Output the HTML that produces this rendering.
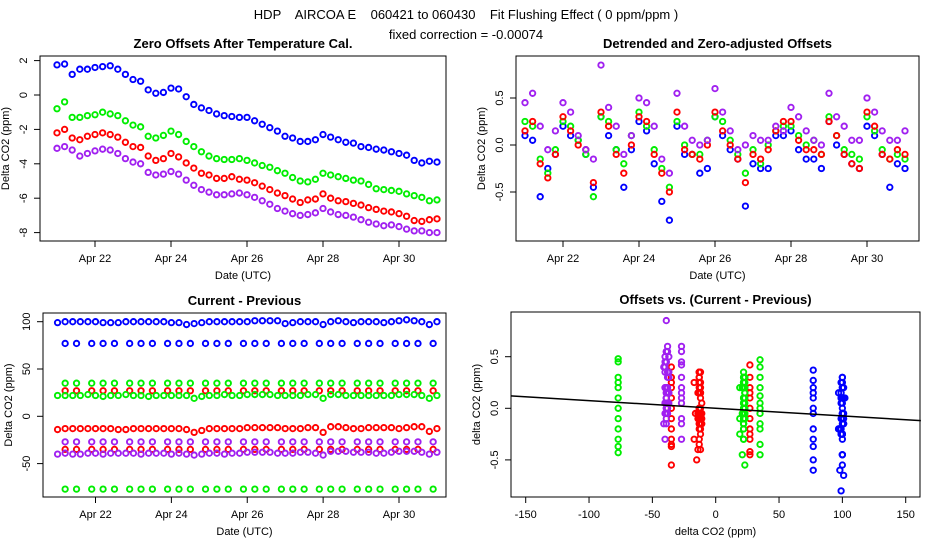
<!DOCTYPE html>
<html><head><meta charset="utf-8"><style>
body{margin:0;background:#fff;}
svg{display:block;font-family:"Liberation Sans",sans-serif;}
</style></head><body>
<svg id="c" width="936" height="540" viewBox="0 0 936 540" xmlns="http://www.w3.org/2000/svg">
<rect width="936" height="540" fill="#fff"/>
<text x="466" y="19" font-size="13" text-anchor="middle" style="white-space:pre">HDP    AIRCOA E    060421 to 060430    Fit Flushing Effect ( 0 ppm/ppm )</text>
<text x="466" y="39" font-size="13" text-anchor="middle" style="white-space:pre">fixed correction = -0.00074</text>
</svg>
<script>
// ---------- data ----------
const days = [21.0,21.2,21.4,21.6,21.8,22.0,22.2,22.4,22.6,22.8,23.0,23.2,23.4,23.6,23.8,24.0,24.2,24.4,24.6,24.8,25.0,25.2,25.4,25.6,25.8,26.0,26.2,26.4,26.6,26.8,27.0,27.2,27.4,27.6,27.8,28.0,28.2,28.4,28.6,28.8,29.0,29.2,29.4,29.6,29.8,30.0,30.2,30.4,30.6,30.8,31.0];
const zeroBlue = [1.75,1.8,1.2,1.5,1.5,1.6,1.65,1.7,1.5,1.2,0.9,0.8,0.3,0.1,0.15,0.4,0.35,-0.1,-0.55,-0.75,-0.9,-1.1,-1.2,-1.25,-1.3,-1.3,-1.5,-1.7,-1.9,-2.1,-2.4,-2.5,-2.7,-2.7,-2.6,-2.3,-2.45,-2.6,-2.75,-2.8,-3.0,-3.05,-3.15,-3.2,-3.3,-3.4,-3.5,-3.8,-3.95,-3.85,-3.9];
const zeroGreen = [-0.8,-0.4,-1.3,-1.3,-1.2,-1.15,-1.0,-1.1,-1.2,-1.5,-1.75,-1.85,-2.4,-2.5,-2.35,-2.1,-2.3,-2.7,-3.0,-3.3,-3.55,-3.7,-3.75,-3.75,-3.7,-3.8,-3.95,-4.1,-4.2,-4.4,-4.55,-4.8,-5.0,-5.05,-4.9,-4.55,-4.65,-4.75,-4.85,-4.95,-5.0,-5.2,-5.45,-5.5,-5.55,-5.6,-5.75,-5.85,-5.95,-6.15,-6.1];
const zeroRed = [-2.2,-2.0,-2.5,-2.6,-2.4,-2.3,-2.2,-2.3,-2.45,-2.75,-3.0,-3.05,-3.55,-3.8,-3.7,-3.4,-3.6,-3.95,-4.25,-4.55,-4.65,-4.85,-4.85,-4.75,-4.9,-4.95,-5.1,-5.3,-5.5,-5.7,-5.85,-6.05,-6.25,-6.1,-6.05,-5.75,-6.0,-6.15,-6.2,-6.3,-6.4,-6.55,-6.65,-6.75,-6.8,-6.9,-7.05,-7.3,-7.35,-7.25,-7.2];
const zeroPurple = [-3.1,-3.0,-3.2,-3.55,-3.4,-3.25,-3.15,-3.2,-3.4,-3.7,-3.9,-4.0,-4.5,-4.65,-4.6,-4.45,-4.6,-4.95,-5.25,-5.5,-5.65,-5.8,-5.8,-5.75,-5.7,-5.8,-5.95,-6.15,-6.35,-6.6,-6.75,-6.9,-7.0,-6.95,-6.85,-6.6,-6.8,-6.95,-7.0,-7.1,-7.25,-7.4,-7.5,-7.6,-7.55,-7.65,-7.8,-7.9,-7.9,-8.0,-8.0];

const resPurple = [0.45,0.55,0.2,-0.05,0.15,0.45,0.35,0.1,-0.05,-0.15,0.85,0.4,0.2,-0.1,0.1,0.5,0.45,0.2,-0.15,-0.3,0.55,0.2,0.05,0.0,0.05,0.6,0.35,0.15,-0.05,0.0,0.1,0.05,0.05,0.2,0.15,0.4,0.3,0.15,0.05,0.0,0.55,0.3,0.2,0.05,0.05,0.5,0.35,0.15,0.05,0.05,0.15];
const resRed = [0.15,0.25,-0.2,-0.35,-0.1,0.3,0.15,0.0,-0.05,-0.4,0.35,0.2,-0.1,-0.3,0.0,0.3,0.25,-0.1,-0.3,-0.5,0.35,-0.05,-0.1,-0.15,0.0,0.35,0.15,0.0,-0.15,-0.4,-0.1,-0.15,-0.05,0.15,0.25,0.25,0.05,-0.05,-0.05,-0.1,0.25,0.1,-0.1,-0.2,-0.25,0.35,0.2,-0.1,-0.15,-0.05,-0.1];
const resGreen = [0.25,0.2,-0.15,-0.3,-0.05,0.25,0.2,0.05,-0.1,-0.55,0.3,0.25,-0.05,-0.2,0.1,0.35,0.2,-0.05,-0.25,-0.45,0.25,0.0,-0.1,-0.1,0.05,0.3,0.25,0.05,-0.1,-0.3,-0.05,-0.2,0.0,0.15,0.2,0.2,0.1,0.0,0.05,-0.1,0.3,0.1,-0.05,-0.1,-0.15,0.3,0.15,-0.05,-0.15,-0.1,-0.15];
const resBlue = [0.1,0.05,-0.55,-0.25,-0.1,0.2,0.1,0.05,-0.1,-0.45,0.3,0.1,-0.05,-0.45,-0.05,0.25,0.15,-0.2,-0.6,-0.8,0.2,-0.1,-0.1,-0.3,-0.25,0.3,0.1,-0.05,-0.15,-0.65,-0.2,-0.25,-0.25,0.1,0.1,0.15,-0.05,-0.15,-0.15,-0.25,0.25,0.0,-0.1,-0.2,-0.25,0.2,0.1,-0.1,-0.45,-0.2,-0.25];

const cpBlue = [99,100,100,100,100,100,99,99,99,100,100,100,100,100,100,99,99,97,98,99,100,100,100,100,100,100,101,101,101,101,98,99,100,100,100,97,100,101,100,99,100,100,100,99,100,101,102,101,100,97,100];
const cpGreen = [22,22,22,22,23,22,21,22,22,23,22,22,21,22,22,22,22,22,19,21,22,22,23,22,22,23,23,23,23,22,22,22,22,23,23,19,23,23,22,22,22,22,22,22,22,23,23,23,22,19,22];
const cpRed = [-14,-13,-13,-13,-13,-13,-13,-13,-14,-14,-13,-13,-13,-13,-13,-13,-13,-14,-17,-15,-13,-13,-13,-13,-13,-12,-12,-12,-12,-12,-13,-13,-13,-12,-12,-17,-11,-11,-12,-13,-13,-12,-12,-12,-12,-13,-12,-11,-11,-16,-13];
const cpPurple = [-40,-39,-40,-40,-39,-39,-40,-39,-39,-39,-39,-40,-39,-39,-39,-40,-39,-40,-41,-40,-39,-39,-40,-39,-39,-38,-38,-38,-38,-39,-39,-39,-38,-38,-39,-41,-37,-37,-37,-38,-38,-38,-39,-39,-38,-37,-37,-37,-38,-40,-38];

const sparseDays = [21.2,21.5,21.9,22.2,22.5,22.9,23.2,23.5,23.9,24.2,24.5,24.9,25.2,25.5,25.9,26.2,26.5,26.9,27.2,27.5,27.9,28.2,28.5,28.9,29.2,29.5,29.9,30.2,30.5,30.9];
const sparseLevels = [77, 35, 27, -27, -35, -77];
const sparseColors = ["#0000ff","#00ee00","#ff0000","#a020f0","#ff0000","#00ee00"];
const sparseRes77 = [0.37,0.27,0.2,0.1,0.0,-0.05,-0.2,-0.3,-0.37,-0.5,-0.6,0.15];
const sparseRes35 = [0.47,0.4,0.3,0.2,0.12,0.05,-0.05,-0.15,-0.2,-0.35,-0.45,0.0];
const sparseRes27 = [0.42,0.3,0.2,0.1,0.0,-0.1,-0.2,-0.25,-0.3,-0.42,-0.45,0.15];
const sparseResM27 = [0.6,0.55,0.42,0.3,0.2,0.1,0.05,-0.1,-0.15,-0.3,0.45,0.15];
const sparseResM35 = [0.4,0.3,0.2,0.0,-0.1,-0.2,-0.3,-0.35,-0.37,-0.55,0.25,0.1];
const sparseResM77 = [0.48,0.45,0.3,0.2,0.1,0.0,-0.1,-0.2,-0.3,-0.37,-0.43,0.25];

const dateTicks = [22,24,26,28,30];
const dateTickLabels = ["Apr 22","Apr 24","Apr 26","Apr 28","Apr 30"];
const zeroTicks = [2,0,-2,-4,-6,-8];
const resTicks = [0.5,0.0,-0.5];
const resTickLabels = ["0.5","0.0","-0.5"];
const cpTicks = [100,50,0,-50];
const dxTicks = [-150,-100,-50,0,50,100,150];
const fitSlope = -0.00074;

// ---------- drawing ----------
const svg = document.getElementById('c');
const NS = 'http://www.w3.org/2000/svg';
function mk(tag, attrs, parent){
  const e = document.createElementNS(NS, tag);
  for (const k in attrs) e.setAttribute(k, attrs[k]);
  (parent||svg).appendChild(e);
  return e;
}
function lin(d0,d1,r0,r1){ return v => r0 + (v-d0)*(r1-r0)/(d1-d0); }

const BLUE="#0000ff", GREEN="#00ee00", RED="#ff0000", PURPLE="#a020f0";

function panel(name, box, title, xlab, ylab){
  const g = mk('g', {});
  
  
  const r = mk('rect', {x:box.l, y:box.t, width:box.r-box.l, height:box.b-box.t, fill:'none', stroke:'#000', 'stroke-width':1}, g);
  
  
  const t = mk('text', {x:(box.l+box.r)/2, y:box.t-8, 'font-size':13, 'font-weight':'bold', 'text-anchor':'middle'}, g);
  t.textContent = title;
  
  
  const xl = mk('text', {x:(box.l+box.r)/2, y:box.b+38, 'font-size':11, 'text-anchor':'middle'}, g);
  xl.textContent = xlab;
  
  
  const yx = box.l-31, yy=(box.t+box.b)/2;
  const yl = mk('text', {x:yx, y:yy, 'font-size':11, 'text-anchor':'middle', transform:`rotate(-90 ${yx} ${yy})`}, g);
  yl.textContent = ylab;
  
  
  return g;
}
function xAxis(g, box, sx, ticks, labels){
  mk('line', {x1:sx(ticks[0]), x2:sx(ticks[ticks.length-1]), y1:box.b, y2:box.b, stroke:'#000'}, g);
  ticks.forEach((v,i)=>{
    const x = sx(v);
    const tk = mk('line', {x1:x, x2:x, y1:box.b, y2:box.b+6, stroke:'#000'}, g);
    
    
    const tl = mk('text', {x:x, y:box.b+21, 'font-size':11, 'text-anchor':'middle'}, g);
    tl.textContent = labels[i];
    
    
  });
}
function yAxis(g, box, sy, ticks, labels){
  mk('line', {x1:box.l, x2:box.l, y1:sy(ticks[0]), y2:sy(ticks[ticks.length-1]), stroke:'#000'}, g);
  ticks.forEach((v,i)=>{
    const y = sy(v);
    const tk = mk('line', {x1:box.l-6, x2:box.l, y1:y, y2:y, stroke:'#000'}, g);
    
    
    const lx = box.l-13;
    const tl = mk('text', {x:lx, y:y, 'font-size':11, 'text-anchor':'middle', transform:`rotate(-90 ${lx} ${y})`}, g);
    tl.textContent = labels[i];
    
    
  });
}
function pt(g, x, y, color, nm){
  const c = mk('circle', {cx:x, cy:y, r:2.7, fill:'none', stroke:color, 'stroke-width':1.9}, g);
  
  
}

// Panel 1
{
  const box={l:40,t:56,r:446,b:241};
  const sx=lin(22,30,95,399), sy=lin(0,2,95,60.6);
  const g=panel('zero-offsets-panel', box, 'Zero Offsets After Temperature Cal.', 'Date (UTC)', 'Delta CO2 (ppm)');
  xAxis(g, box, sx, dateTicks, dateTickLabels);
  yAxis(g, box, sy, zeroTicks, zeroTicks.map(String));
  [[zeroBlue,BLUE],[zeroGreen,GREEN],[zeroRed,RED],[zeroPurple,PURPLE]].forEach(([arr,col])=>{
    arr.forEach((v,i)=>pt(g, sx(days[i]), sy(v), col, 'zero-offset-point'));
  });
}
// Panel 2
{
  const box={l:516,t:56,r:919,b:241};
  const sx=lin(22,30,563,867), sy=lin(0,0.5,145,98);
  const g=panel('detrended-offsets-panel', box, 'Detrended and Zero-adjusted Offsets', 'Date (UTC)', 'Delta CO2 (ppm)');
  xAxis(g, box, sx, dateTicks, dateTickLabels);
  yAxis(g, box, sy, resTicks, resTickLabels);
  [[resBlue,BLUE],[resGreen,GREEN],[resRed,RED],[resPurple,PURPLE]].forEach(([arr,col])=>{
    arr.forEach((v,i)=>pt(g, sx(days[i]), sy(v), col, 'residual-point'));
  });
}
// Panel 3
{
  const box={l:43,t:313,r:446,b:497};
  const sx=lin(22,30,95.5,399), sy=lin(0,100,416.3,321.7);
  const g=panel('current-minus-previous-panel', box, 'Current - Previous', 'Date (UTC)', 'Delta CO2 (ppm)');
  xAxis(g, box, sx, dateTicks, dateTickLabels);
  yAxis(g, box, sy, cpTicks, cpTicks.map(String));
  sparseLevels.forEach((lv,k)=>{
    sparseDays.forEach(d=>pt(g, sx(d), sy(lv), sparseColors[k], 'sparse-diff-point'));
  });
  [[cpBlue,BLUE],[cpGreen,GREEN],[cpRed,RED],[cpPurple,PURPLE]].forEach(([arr,col])=>{
    arr.forEach((v,i)=>pt(g, sx(days[i]), sy(v), col, 'diff-point'));
  });
}
// Panel 4
{
  const box={l:511,t:312,r:920,b:497};
  const sx=lin(0,150,715.7,905.7), sy=lin(0,0.5,408.3,356.7);
  const g=panel('offsets-vs-diff-panel', box, 'Offsets vs. (Current - Previous)', 'delta CO2 (ppm)', 'delta CO2 (ppm)');
  xAxis(g, box, sx, dxTicks, dxTicks.map(String));
  yAxis(g, box, sy, resTicks, resTickLabels);
  const sparseRes=[sparseRes77,sparseRes35,sparseRes27,sparseResM27,sparseResM35,sparseResM77];
  sparseLevels.forEach((lv,k)=>{
    sparseRes[k].forEach(v=>pt(g, sx(lv), sy(v), sparseColors[k], 'scatter-point'));
  });
  [[cpGreen,resGreen,GREEN],[cpRed,resRed,RED],[cpPurple,resPurple,PURPLE],[cpBlue,resBlue,BLUE]].forEach(([xs,ys,col])=>{
    xs.forEach((v,i)=>pt(g, sx(v), sy(ys[i]), col, 'scatter-point'));
  });
  const x0=-162, x1=162;
  const fl = mk('line', {x1:sx(x0), y1:sy(fitSlope*x0), x2:sx(x1), y2:sy(fitSlope*x1), stroke:'#000', 'stroke-width':1.5}, g);
  
  
}
</script>
</body></html>
